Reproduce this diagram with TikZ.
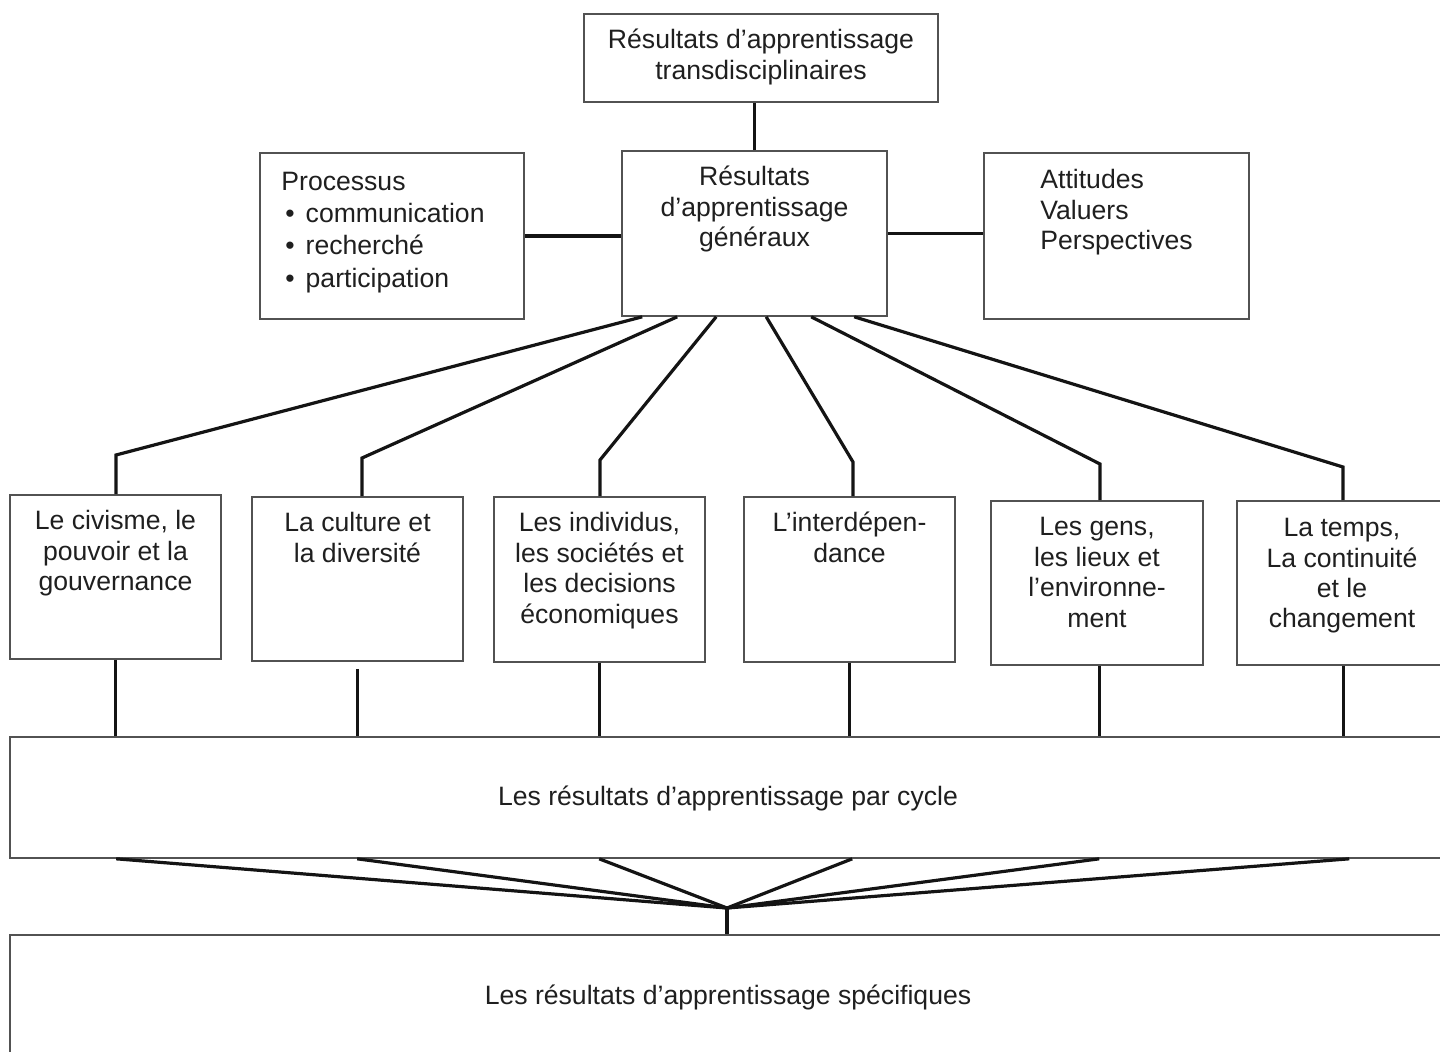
\documentclass[tikz,border=0pt]{standalone}
\usepackage{fontspec}
\setmainfont{Liberation Sans}
\usetikzlibrary{fit,calc}
\begin{document}
\begin{tikzpicture}[x=0.5pt,y=-0.5pt,
  box/.style={draw=black!68, line width=0.8pt, inner sep=0pt},
  txt/.style={font=\fontsize{13.3}{15.2}\selectfont, text=black!88, inner sep=0pt, align=center, anchor=north},
  conn/.style={line width=1.6pt, draw=black!92}]
\useasboundingbox (0,0) rectangle (1440,1051);
\clip (0,0) rectangle (1440,1051);
% boxes
\node[box, fit={(584,14) (938,102)}] (trans) {};
\node[box, fit={(622,151) (887,316)}] (gen) {};
\node[box, fit={(260,153) (524,319)}] (proc) {};
\node[box, fit={(984,153) (1249,319)}] (att) {};
\node[box, fit={(10,495) (221,659)}] (b1) {};
\node[box, fit={(252,497) (463,661)}] (b2) {};
\node[box, fit={(494,497) (705,662)}] (b3) {};
\node[box, fit={(744,497) (955,662)}] (b4) {};
\node[box, fit={(991,501) (1203,665)}] (b5) {};
\node[box, fit={(1237,501) (1470,665)}] (b6) {};
\node[box, fit={(10,737) (1470,858)}] (cyc) {};
\node[box, fit={(10,935) (1470,1080)}] (spec) {};
% texts
\node[txt] (ttrans) at ($(trans.north)+(0,14)$) {\strut Résultats d’apprentissage\\transdisciplinaires};
\node[txt] (tgen) at ($(gen.north)+(0,14)$) {\strut Résultats\\d’apprentissage\\généraux};
\node[txt, align=left, anchor=north west, font=\fontsize{13.3}{16.2}\selectfont] (tproc) at (281,167) {\strut Processus\\\hspace*{2pt}\textbullet\hspace{5.5pt}communication\\\hspace*{2pt}\textbullet\hspace{5.5pt}recherché\\\hspace*{2pt}\textbullet\hspace{5.5pt}participation};
\node[txt, align=left, anchor=north west] (tatt) at (1040,167) {\strut Attitudes\\Valuers\\Perspectives};
\node[txt] (tb1) at ($(b1.north)+(0,14)$) {\strut Le civisme, le\\pouvoir et la\\gouvernance};
\node[txt] (tb2) at ($(b2.north)+(0,14)$) {\strut La culture et\\la diversité};
\node[txt] (tb3) at ($(b3.north)+(0,14)$) {\strut Les individus,\\les sociétés et\\les decisions\\économiques};
\node[txt] (tb4) at ($(b4.north)+(0,14)$) {\strut L’interdépen-\\dance};
\node[txt] (tb5) at ($(b5.north)+(0,14)$) {\strut Les gens,\\les lieux et\\l’environne-\\ment};
\node[txt] (tb6) at (1342,515) {\strut La temps,\\La continuité\\et le\\changement};
\node[txt, anchor=center] (tcyc) at (728,798) {Les résultats d’apprentissage par cycle};
\node[txt, anchor=center] (tspec) at (728,997) {Les résultats d’apprentissage spécifiques};
% top connectors
\draw[conn] (gen.north |- trans.south) -- (gen.north);
\draw[conn] (proc.east) -- (gen.west |- proc.east);
\draw[conn] (gen.east) -- (att.west |- gen.east);
% elbows
\coordinate (e1) at (116,455);
\coordinate (e2) at (362,458);
\coordinate (e3) at (600,460);
\coordinate (e4) at (853,462);
\coordinate (e5) at (1100,464);
\coordinate (e6) at (1343,467);
\draw[conn] ($(gen.south west)+(21,0)$) -- (e1) -- (e1 |- b1.north);
\draw[conn] ($(gen.south west)+(56,0)$) -- (e2) -- (e2 |- b2.north);
\draw[conn] ($(gen.south west)+(95,0)$) -- (e3) -- (e3 |- b3.north);
\draw[conn] ($(gen.south west)+(145,0)$) -- (e4) -- (e4 |- b4.north);
\draw[conn] ($(gen.south west)+(190,0)$) -- (e5) -- (e5 |- b5.north);
\draw[conn] ($(gen.south west)+(233,0)$) -- (e6) -- (e6 |- b6.north);
% lower connectors
\draw[conn] ($(b1.south west)+(106,0)$) -- ($(b1.south west |- cyc.north)+(106,0)$);
\draw[conn] ($(b2.south west)+(106,7)$) -- ($(b2.south west |- cyc.north)+(106,0)$);
\draw[conn] ($(b3.south west)+(106,0)$) -- ($(b3.south west |- cyc.north)+(106,0)$);
\draw[conn] ($(b4.south west)+(106,0)$) -- ($(b4.south west |- cyc.north)+(106,0)$);
\draw[conn] ($(b5.south west)+(109,0)$) -- ($(b5.south west |- cyc.north)+(109,0)$);
\draw[conn] ($(b6.south west)+(107,0)$) -- ($(b6.south west |- cyc.north)+(107,0)$);
% fan
\coordinate (hub) at (727,908);
\foreach \dx in {107,348,590,843,1090,1340}
  \draw[conn] ($(cyc.south west)+(\dx,0)$) -- (hub);
\draw[conn] (hub) -- (hub |- spec.north);
\end{tikzpicture}
\end{document}
